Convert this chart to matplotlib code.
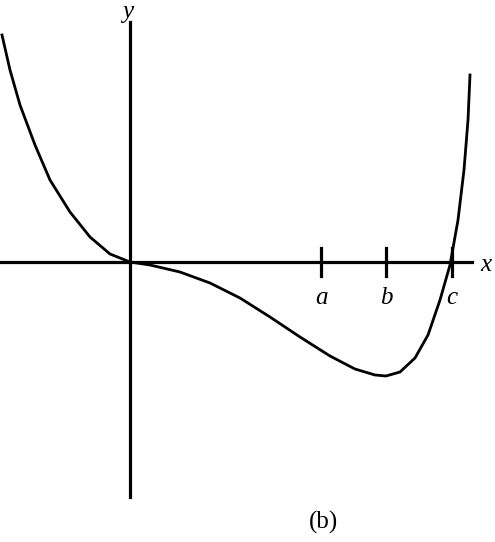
import matplotlib
matplotlib.use("Agg")
import matplotlib.pyplot as plt

# curve points (pixel coords, y downward)
curve_x = [2, 10, 20, 35, 50, 70, 90, 110, 130, 150, 180, 210, 240, 270, 300, 330,
           355, 375, 386, 400, 415, 428, 440, 450, 458, 464, 468, 470]
curve_y = [35, 70, 105, 145, 180, 212, 237, 254, 262, 265, 272, 283, 298, 317, 337, 356,
           369, 375, 376, 372, 358, 335, 300, 265, 220, 170, 120, 75]
tick_x = [321, 386, 452]
tick_labels = ["a", "b", "c"]
origin = (130, 262)

fig = plt.figure(figsize=(4.95, 5.42), dpi=100)
ax = fig.add_axes([0, 0, 1, 1])
ax.set_xlim(0, 495)
ax.set_ylim(542, 0)
ax.axis("off")

lw = 2.3
ax.plot([0, 472], [origin[1], origin[1]], color="black", lw=lw)
ax.plot([origin[0], origin[0]], [22, 497], color="black", lw=lw)
ax.plot(curve_x, curve_y, color="black", lw=2.0, solid_joinstyle="round")

for tx, lab in zip(tick_x, tick_labels):
    ax.plot([tx, tx], [248, 276], color="black", lw=lw)
    ax.text(tx, 298, lab, fontsize=18, family="Liberation Serif", style="italic",
            ha="center", va="center")

ax.text(128, 12, "y", fontsize=18, family="Liberation Serif", style="italic", ha="center", va="center")
ax.text(486, 265, "x", fontsize=18, family="Liberation Serif", style="italic", ha="center", va="center")
ax.text(323, 522, "(b)", fontsize=18, family="Liberation Serif", ha="center", va="center")

fig.savefig("out.png", dpi=100)
